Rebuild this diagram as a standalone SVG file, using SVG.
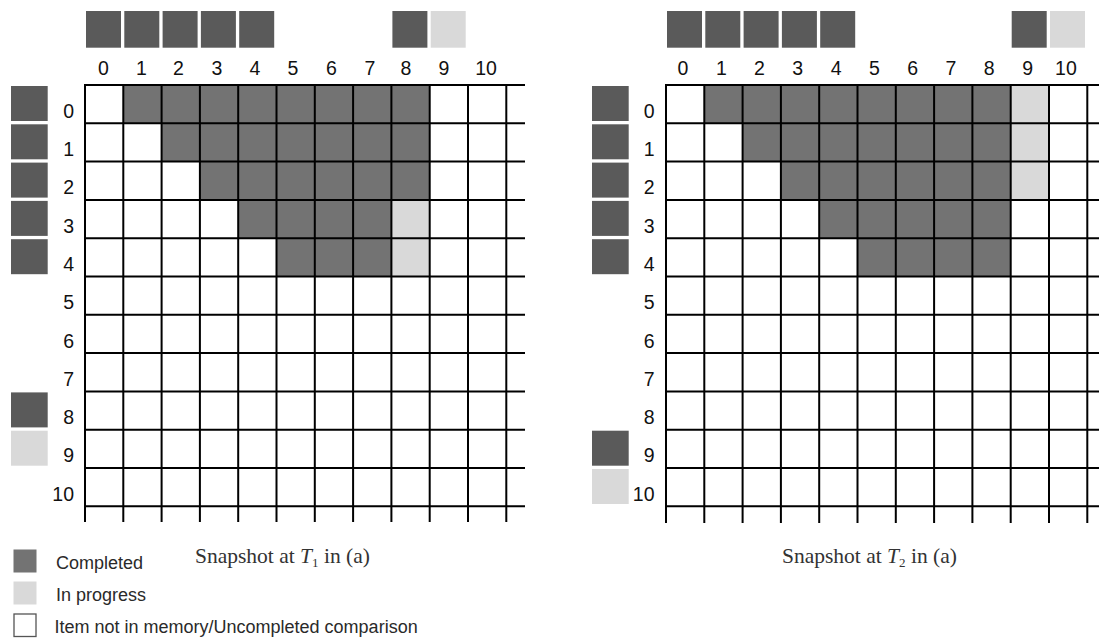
<svg xmlns="http://www.w3.org/2000/svg" width="1099" height="639" viewBox="0 0 1099 639">
<style>
.bg{fill:#ffffff}
.hd{fill:#5a5a5a}
.hl{fill:#d9d9d9}
.cd{fill:#737373}
.cl{fill:#d9d9d9}
.gl{stroke:#000;stroke-width:2;fill:none}
.num{font-family:"Liberation Sans",Arial,sans-serif;font-size:19.5px;fill:#111}
.cn{text-anchor:middle}
.rn{text-anchor:end}
.lg{font-family:"Liberation Sans",Arial,sans-serif;font-size:18px;fill:#2a2a2a}
.cap{font-family:"Liberation Serif","Times New Roman",serif;font-size:21.5px;fill:#333}
</style>
<rect class="bg" x="0" y="0" width="1099" height="639"/>

<!-- LEFT GRID (Snapshot T1) -->
<g id="left-snapshot">
  <g id="left-col-headers">
    <rect class="hd" x="86" y="11" width="35" height="36.7"/>
    <rect class="hd" x="124.3" y="11" width="35" height="36.7"/>
    <rect class="hd" x="162.6" y="11" width="35" height="36.7"/>
    <rect class="hd" x="200.9" y="11" width="35" height="36.7"/>
    <rect class="hd" x="239.2" y="11" width="35" height="36.7"/>
    <rect class="hd" x="392.4" y="11" width="35" height="36.7"/>
    <rect class="hl" x="430.7" y="11" width="35" height="36.7"/>
  </g>
  <g id="left-row-headers">
    <rect class="hd" x="11" y="86" width="36.7" height="35"/>
    <rect class="hd" x="11" y="124.3" width="36.7" height="35"/>
    <rect class="hd" x="11" y="162.6" width="36.7" height="35"/>
    <rect class="hd" x="11" y="200.9" width="36.7" height="35"/>
    <rect class="hd" x="11" y="239.2" width="36.7" height="35"/>
    <rect class="hd" x="11" y="392.4" width="36.7" height="35"/>
    <rect class="hl" x="11" y="430.7" width="36.7" height="35"/>
  </g>
  <g id="left-col-labels" class="num cn">
    <text x="103.5" y="75">0</text>
    <text x="141.5" y="75">1</text>
    <text x="178.5" y="75">2</text>
    <text x="217" y="75">3</text>
    <text x="255" y="75">4</text>
    <text x="293" y="75">5</text>
    <text x="331.5" y="75">6</text>
    <text x="370" y="75">7</text>
    <text x="406" y="75">8</text>
    <text x="444" y="75">9</text>
    <text x="486" y="75">10</text>
  </g>
  <g id="left-row-labels" class="num rn">
    <text x="74" y="117.7">0</text>
    <text x="74" y="156">1</text>
    <text x="74" y="194.3">2</text>
    <text x="74" y="232.6">3</text>
    <text x="74" y="270.9">4</text>
    <text x="74" y="309.2">5</text>
    <text x="74" y="347.5">6</text>
    <text x="74" y="385.8">7</text>
    <text x="74" y="424.1">8</text>
    <text x="74" y="462.4">9</text>
    <text x="74" y="500.7">10</text>
  </g>
  <g id="left-cells">
    <rect class="cd" x="123.3" y="85" width="306.4" height="38.3"/>
    <rect class="cd" x="161.6" y="123.3" width="268.1" height="38.3"/>
    <rect class="cd" x="199.9" y="161.6" width="229.8" height="38.3"/>
    <rect class="cd" x="238.2" y="199.9" width="153.2" height="38.3"/>
    <rect class="cl" x="391.4" y="199.9" width="38.3" height="38.3"/>
    <rect class="cd" x="276.5" y="238.2" width="114.9" height="38.3"/>
    <rect class="cl" x="391.4" y="238.2" width="38.3" height="38.3"/>
  </g>
  <g id="left-grid-lines" class="gl">
    <path d="M85 85H525M85 123.3H525M85 161.6H525M85 199.9H525M85 238.2H525M85 276.5H525M85 314.8H525M85 353.1H525M85 391.4H525M85 429.7H525M85 468H525M85 506.3H525"/>
    <path d="M85 84V522M123.3 84V522M161.6 84V522M199.9 84V522M238.2 84V522M276.5 84V522M314.8 84V522M353.1 84V522M391.4 84V522M429.7 84V522M468 84V522M506.3 84V522"/>
  </g>
  <text id="left-caption" class="cap" x="195" y="563">Snapshot at <tspan font-style="italic">T</tspan><tspan font-size="13" dy="4">1</tspan><tspan dy="-4"> in (a)</tspan></text>
</g>

<!-- RIGHT GRID (Snapshot T2) -->
<g id="right-snapshot">
  <g id="right-col-headers">
    <rect class="hd" x="667" y="11" width="35" height="36.7"/>
    <rect class="hd" x="705.3" y="11" width="35" height="36.7"/>
    <rect class="hd" x="743.6" y="11" width="35" height="36.7"/>
    <rect class="hd" x="781.9" y="11" width="35" height="36.7"/>
    <rect class="hd" x="820.2" y="11" width="35" height="36.7"/>
    <rect class="hd" x="1011.7" y="11" width="35" height="36.7"/>
    <rect class="hl" x="1050" y="11" width="35" height="36.7"/>
  </g>
  <g id="right-row-headers">
    <rect class="hd" x="592" y="86" width="36.7" height="35"/>
    <rect class="hd" x="592" y="124.3" width="36.7" height="35"/>
    <rect class="hd" x="592" y="162.6" width="36.7" height="35"/>
    <rect class="hd" x="592" y="200.9" width="36.7" height="35"/>
    <rect class="hd" x="592" y="239.2" width="36.7" height="35"/>
    <rect class="hd" x="592" y="430.7" width="36.7" height="35"/>
    <rect class="hl" x="592" y="469" width="36.7" height="35"/>
  </g>
  <g id="right-col-labels" class="num cn">
    <text x="683" y="75">0</text>
    <text x="721.5" y="75">1</text>
    <text x="759.5" y="75">2</text>
    <text x="797.8" y="75">3</text>
    <text x="836.1" y="75">4</text>
    <text x="874.4" y="75">5</text>
    <text x="912.7" y="75">6</text>
    <text x="951" y="75">7</text>
    <text x="989.3" y="75">8</text>
    <text x="1027.6" y="75">9</text>
    <text x="1065.9" y="75">10</text>
  </g>
  <g id="right-row-labels" class="num rn">
    <text x="654.5" y="117.7">0</text>
    <text x="654.5" y="156">1</text>
    <text x="654.5" y="194.3">2</text>
    <text x="654.5" y="232.6">3</text>
    <text x="654.5" y="270.9">4</text>
    <text x="654.5" y="309.2">5</text>
    <text x="654.5" y="347.5">6</text>
    <text x="654.5" y="385.8">7</text>
    <text x="654.5" y="424.1">8</text>
    <text x="654.5" y="462.4">9</text>
    <text x="654.5" y="500.7">10</text>
  </g>
  <g id="right-cells">
    <rect class="cd" x="704.3" y="85" width="306.4" height="38.3"/>
    <rect class="cl" x="1010.7" y="85" width="38.3" height="38.3"/>
    <rect class="cd" x="742.6" y="123.3" width="268.1" height="38.3"/>
    <rect class="cl" x="1010.7" y="123.3" width="38.3" height="38.3"/>
    <rect class="cd" x="780.9" y="161.6" width="229.8" height="38.3"/>
    <rect class="cl" x="1010.7" y="161.6" width="38.3" height="38.3"/>
    <rect class="cd" x="819.2" y="199.9" width="191.5" height="38.3"/>
    <rect class="cd" x="857.5" y="238.2" width="153.2" height="38.3"/>
  </g>
  <g id="right-grid-lines" class="gl">
    <path d="M666 85H1099M666 123.3H1099M666 161.6H1099M666 199.9H1099M666 238.2H1099M666 276.5H1099M666 314.8H1099M666 353.1H1099M666 391.4H1099M666 429.7H1099M666 468H1099M666 506.3H1099"/>
    <path d="M666 84V523M704.3 84V523M742.6 84V523M780.9 84V523M819.2 84V523M857.5 84V523M895.8 84V523M934.1 84V523M972.4 84V523M1010.7 84V523M1049 84V523M1087.3 84V523"/>
  </g>
  <text id="right-caption" class="cap" x="782" y="563">Snapshot at <tspan font-style="italic">T</tspan><tspan font-size="13" dy="4">2</tspan><tspan dy="-4"> in (a)</tspan></text>
</g>

<!-- LEGEND -->
<g id="legend">
  <g id="legend-completed">
    <rect x="13.5" y="549.5" width="23" height="23" fill="#737373"/>
    <text class="lg" x="56" y="569">Completed</text>
  </g>
  <g id="legend-in-progress">
    <rect x="13.5" y="581.5" width="23" height="23" fill="#d9d9d9"/>
    <text class="lg" x="56" y="601">In progress</text>
  </g>
  <g id="legend-not-in-memory">
    <rect x="14" y="614" width="22" height="22.5" fill="#fff" stroke="#555" stroke-width="1.3"/>
    <text class="lg" x="54.5" y="633">Item not in memory/Uncompleted comparison</text>
  </g>
</g>
</svg>
